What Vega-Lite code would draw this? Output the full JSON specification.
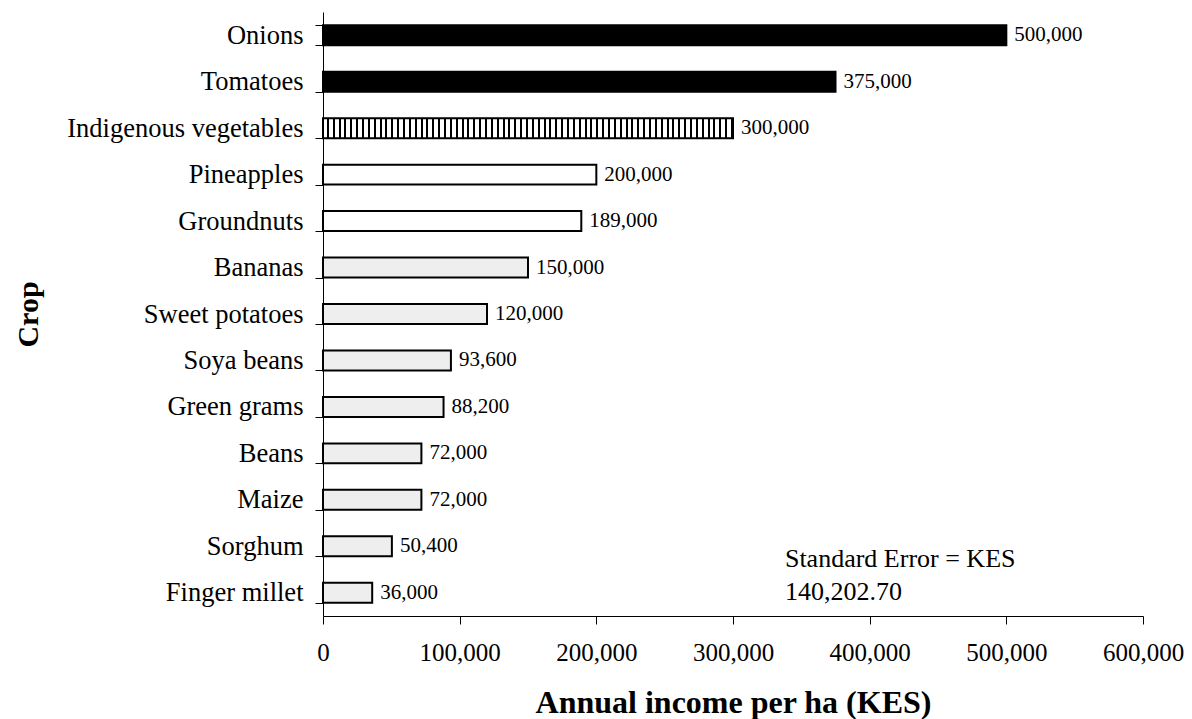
{
  "$schema": "https://vega.github.io/schema/vega-lite/v6.json",
  "width": 820,
  "height": 604,
  "autosize": {"type": "none"},
  "padding": {"left": 323, "top": 12, "right": 49, "bottom": 103},
  "background": "white",
  "config": {
    "view": {"stroke": null},
    "font": "Liberation Serif",
    "axis": {
      "grid": false,
      "domainColor": "#000",
      "domainWidth": 1,
      "tickColor": "#000",
      "tickWidth": 1,
      "labelColor": "#000",
      "titleColor": "#000",
      "labelFont": "Liberation Serif",
      "titleFont": "Liberation Serif"
    }
  },
  "data": {
    "values": [
      {"crop": "Onions", "income": 500000},
      {"crop": "Tomatoes", "income": 375000},
      {"crop": "Indigenous vegetables", "income": 300000},
      {"crop": "Pineapples", "income": 200000},
      {"crop": "Groundnuts", "income": 189000},
      {"crop": "Bananas", "income": 150000},
      {"crop": "Sweet potatoes", "income": 120000},
      {"crop": "Soya beans", "income": 93600},
      {"crop": "Green grams", "income": 88200},
      {"crop": "Beans", "income": 72000},
      {"crop": "Maize", "income": 72000},
      {"crop": "Sorghum", "income": 50400},
      {"crop": "Finger millet", "income": 36000}
    ]
  },
  "layer": [
    {
      "mark": {"type": "bar", "stroke": "#000", "strokeWidth": 2},
      "encoding": {
        "y": {
          "field": "crop",
          "type": "nominal",
          "sort": null,
          "scale": {"paddingInner": 0.57, "paddingOuter": 0.285},
          "axis": {
            "title": "Crop",
            "titleFontSize": 30,
            "titleFontWeight": "bold",
            "titleAngle": -90,
            "titleX": -295,
            "titleY": 302,
            "titleAlign": "center",
            "titleBaseline": "middle",
            "labelFontSize": 26.5,
            "labelPadding": 12,
            "labelLimit": 0,
            "tickSize": 8,
            "tickBand": "extent"
          }
        },
        "x": {
          "field": "income",
          "type": "quantitative",
          "scale": {"domain": [0, 600000], "nice": false},
          "axis": {
            "title": "Annual income per ha (KES)",
            "titleFontSize": 32,
            "titleFontWeight": "bold",
            "titleY": 96,
            "titleBaseline": "alphabetic",
            "values": [0, 100000, 200000, 300000, 400000, 500000, 600000],
            "format": ",.0f",
            "labelFontSize": 25,
            "labelPadding": 16,
            "tickSize": 8,
            "labelFlush": false
          }
        },
        "fill": {
          "condition": [
            {"test": "datum.crop === 'Onions' || datum.crop === 'Tomatoes'", "value": "#000"},
            {"test": "datum.crop === 'Indigenous vegetables'", "value": {
              "gradient": "linear", "x1": 0, "y1": 0, "x2": 1, "y2": 0,
              "stops": [
                {"offset": 0, "color": "#fff"}, {"offset": 0.0094, "color": "#fff"}, {"offset": 0.0094, "color": "#000"}, {"offset": 0.0143, "color": "#000"},
                {"offset": 0.0143, "color": "#fff"}, {"offset": 0.0237, "color": "#fff"}, {"offset": 0.0237, "color": "#000"}, {"offset": 0.0286, "color": "#000"},
                {"offset": 0.0286, "color": "#fff"}, {"offset": 0.038, "color": "#fff"}, {"offset": 0.038, "color": "#000"}, {"offset": 0.0429, "color": "#000"},
                {"offset": 0.0429, "color": "#fff"}, {"offset": 0.0523, "color": "#fff"}, {"offset": 0.0523, "color": "#000"}, {"offset": 0.0571, "color": "#000"},
                {"offset": 0.0571, "color": "#fff"}, {"offset": 0.0665, "color": "#fff"}, {"offset": 0.0665, "color": "#000"}, {"offset": 0.0714, "color": "#000"},
                {"offset": 0.0714, "color": "#fff"}, {"offset": 0.0808, "color": "#fff"}, {"offset": 0.0808, "color": "#000"}, {"offset": 0.0857, "color": "#000"},
                {"offset": 0.0857, "color": "#fff"}, {"offset": 0.0951, "color": "#fff"}, {"offset": 0.0951, "color": "#000"}, {"offset": 0.1, "color": "#000"},
                {"offset": 0.1, "color": "#fff"}, {"offset": 0.1094, "color": "#fff"}, {"offset": 0.1094, "color": "#000"}, {"offset": 0.1143, "color": "#000"},
                {"offset": 0.1143, "color": "#fff"}, {"offset": 0.1237, "color": "#fff"}, {"offset": 0.1237, "color": "#000"}, {"offset": 0.1286, "color": "#000"},
                {"offset": 0.1286, "color": "#fff"}, {"offset": 0.138, "color": "#fff"}, {"offset": 0.138, "color": "#000"}, {"offset": 0.1429, "color": "#000"},
                {"offset": 0.1429, "color": "#fff"}, {"offset": 0.1523, "color": "#fff"}, {"offset": 0.1523, "color": "#000"}, {"offset": 0.1571, "color": "#000"},
                {"offset": 0.1571, "color": "#fff"}, {"offset": 0.1665, "color": "#fff"}, {"offset": 0.1665, "color": "#000"}, {"offset": 0.1714, "color": "#000"},
                {"offset": 0.1714, "color": "#fff"}, {"offset": 0.1808, "color": "#fff"}, {"offset": 0.1808, "color": "#000"}, {"offset": 0.1857, "color": "#000"},
                {"offset": 0.1857, "color": "#fff"}, {"offset": 0.1951, "color": "#fff"}, {"offset": 0.1951, "color": "#000"}, {"offset": 0.2, "color": "#000"},
                {"offset": 0.2, "color": "#fff"}, {"offset": 0.2094, "color": "#fff"}, {"offset": 0.2094, "color": "#000"}, {"offset": 0.2143, "color": "#000"},
                {"offset": 0.2143, "color": "#fff"}, {"offset": 0.2237, "color": "#fff"}, {"offset": 0.2237, "color": "#000"}, {"offset": 0.2286, "color": "#000"},
                {"offset": 0.2286, "color": "#fff"}, {"offset": 0.238, "color": "#fff"}, {"offset": 0.238, "color": "#000"}, {"offset": 0.2429, "color": "#000"},
                {"offset": 0.2429, "color": "#fff"}, {"offset": 0.2523, "color": "#fff"}, {"offset": 0.2523, "color": "#000"}, {"offset": 0.2571, "color": "#000"},
                {"offset": 0.2571, "color": "#fff"}, {"offset": 0.2665, "color": "#fff"}, {"offset": 0.2665, "color": "#000"}, {"offset": 0.2714, "color": "#000"},
                {"offset": 0.2714, "color": "#fff"}, {"offset": 0.2808, "color": "#fff"}, {"offset": 0.2808, "color": "#000"}, {"offset": 0.2857, "color": "#000"},
                {"offset": 0.2857, "color": "#fff"}, {"offset": 0.2951, "color": "#fff"}, {"offset": 0.2951, "color": "#000"}, {"offset": 0.3, "color": "#000"},
                {"offset": 0.3, "color": "#fff"}, {"offset": 0.3094, "color": "#fff"}, {"offset": 0.3094, "color": "#000"}, {"offset": 0.3143, "color": "#000"},
                {"offset": 0.3143, "color": "#fff"}, {"offset": 0.3237, "color": "#fff"}, {"offset": 0.3237, "color": "#000"}, {"offset": 0.3286, "color": "#000"},
                {"offset": 0.3286, "color": "#fff"}, {"offset": 0.338, "color": "#fff"}, {"offset": 0.338, "color": "#000"}, {"offset": 0.3429, "color": "#000"},
                {"offset": 0.3429, "color": "#fff"}, {"offset": 0.3523, "color": "#fff"}, {"offset": 0.3523, "color": "#000"}, {"offset": 0.3571, "color": "#000"},
                {"offset": 0.3571, "color": "#fff"}, {"offset": 0.3665, "color": "#fff"}, {"offset": 0.3665, "color": "#000"}, {"offset": 0.3714, "color": "#000"},
                {"offset": 0.3714, "color": "#fff"}, {"offset": 0.3808, "color": "#fff"}, {"offset": 0.3808, "color": "#000"}, {"offset": 0.3857, "color": "#000"},
                {"offset": 0.3857, "color": "#fff"}, {"offset": 0.3951, "color": "#fff"}, {"offset": 0.3951, "color": "#000"}, {"offset": 0.4, "color": "#000"},
                {"offset": 0.4, "color": "#fff"}, {"offset": 0.4094, "color": "#fff"}, {"offset": 0.4094, "color": "#000"}, {"offset": 0.4143, "color": "#000"},
                {"offset": 0.4143, "color": "#fff"}, {"offset": 0.4237, "color": "#fff"}, {"offset": 0.4237, "color": "#000"}, {"offset": 0.4286, "color": "#000"},
                {"offset": 0.4286, "color": "#fff"}, {"offset": 0.438, "color": "#fff"}, {"offset": 0.438, "color": "#000"}, {"offset": 0.4429, "color": "#000"},
                {"offset": 0.4429, "color": "#fff"}, {"offset": 0.4523, "color": "#fff"}, {"offset": 0.4523, "color": "#000"}, {"offset": 0.4571, "color": "#000"},
                {"offset": 0.4571, "color": "#fff"}, {"offset": 0.4665, "color": "#fff"}, {"offset": 0.4665, "color": "#000"}, {"offset": 0.4714, "color": "#000"},
                {"offset": 0.4714, "color": "#fff"}, {"offset": 0.4808, "color": "#fff"}, {"offset": 0.4808, "color": "#000"}, {"offset": 0.4857, "color": "#000"},
                {"offset": 0.4857, "color": "#fff"}, {"offset": 0.4951, "color": "#fff"}, {"offset": 0.4951, "color": "#000"}, {"offset": 0.5, "color": "#000"},
                {"offset": 0.5, "color": "#fff"}, {"offset": 0.5094, "color": "#fff"}, {"offset": 0.5094, "color": "#000"}, {"offset": 0.5143, "color": "#000"},
                {"offset": 0.5143, "color": "#fff"}, {"offset": 0.5237, "color": "#fff"}, {"offset": 0.5237, "color": "#000"}, {"offset": 0.5286, "color": "#000"},
                {"offset": 0.5286, "color": "#fff"}, {"offset": 0.538, "color": "#fff"}, {"offset": 0.538, "color": "#000"}, {"offset": 0.5429, "color": "#000"},
                {"offset": 0.5429, "color": "#fff"}, {"offset": 0.5523, "color": "#fff"}, {"offset": 0.5523, "color": "#000"}, {"offset": 0.5571, "color": "#000"},
                {"offset": 0.5571, "color": "#fff"}, {"offset": 0.5665, "color": "#fff"}, {"offset": 0.5665, "color": "#000"}, {"offset": 0.5714, "color": "#000"},
                {"offset": 0.5714, "color": "#fff"}, {"offset": 0.5808, "color": "#fff"}, {"offset": 0.5808, "color": "#000"}, {"offset": 0.5857, "color": "#000"},
                {"offset": 0.5857, "color": "#fff"}, {"offset": 0.5951, "color": "#fff"}, {"offset": 0.5951, "color": "#000"}, {"offset": 0.6, "color": "#000"},
                {"offset": 0.6, "color": "#fff"}, {"offset": 0.6094, "color": "#fff"}, {"offset": 0.6094, "color": "#000"}, {"offset": 0.6143, "color": "#000"},
                {"offset": 0.6143, "color": "#fff"}, {"offset": 0.6237, "color": "#fff"}, {"offset": 0.6237, "color": "#000"}, {"offset": 0.6286, "color": "#000"},
                {"offset": 0.6286, "color": "#fff"}, {"offset": 0.638, "color": "#fff"}, {"offset": 0.638, "color": "#000"}, {"offset": 0.6429, "color": "#000"},
                {"offset": 0.6429, "color": "#fff"}, {"offset": 0.6523, "color": "#fff"}, {"offset": 0.6523, "color": "#000"}, {"offset": 0.6571, "color": "#000"},
                {"offset": 0.6571, "color": "#fff"}, {"offset": 0.6665, "color": "#fff"}, {"offset": 0.6665, "color": "#000"}, {"offset": 0.6714, "color": "#000"},
                {"offset": 0.6714, "color": "#fff"}, {"offset": 0.6808, "color": "#fff"}, {"offset": 0.6808, "color": "#000"}, {"offset": 0.6857, "color": "#000"},
                {"offset": 0.6857, "color": "#fff"}, {"offset": 0.6951, "color": "#fff"}, {"offset": 0.6951, "color": "#000"}, {"offset": 0.7, "color": "#000"},
                {"offset": 0.7, "color": "#fff"}, {"offset": 0.7094, "color": "#fff"}, {"offset": 0.7094, "color": "#000"}, {"offset": 0.7143, "color": "#000"},
                {"offset": 0.7143, "color": "#fff"}, {"offset": 0.7237, "color": "#fff"}, {"offset": 0.7237, "color": "#000"}, {"offset": 0.7286, "color": "#000"},
                {"offset": 0.7286, "color": "#fff"}, {"offset": 0.738, "color": "#fff"}, {"offset": 0.738, "color": "#000"}, {"offset": 0.7429, "color": "#000"},
                {"offset": 0.7429, "color": "#fff"}, {"offset": 0.7523, "color": "#fff"}, {"offset": 0.7523, "color": "#000"}, {"offset": 0.7571, "color": "#000"},
                {"offset": 0.7571, "color": "#fff"}, {"offset": 0.7665, "color": "#fff"}, {"offset": 0.7665, "color": "#000"}, {"offset": 0.7714, "color": "#000"},
                {"offset": 0.7714, "color": "#fff"}, {"offset": 0.7808, "color": "#fff"}, {"offset": 0.7808, "color": "#000"}, {"offset": 0.7857, "color": "#000"},
                {"offset": 0.7857, "color": "#fff"}, {"offset": 0.7951, "color": "#fff"}, {"offset": 0.7951, "color": "#000"}, {"offset": 0.8, "color": "#000"},
                {"offset": 0.8, "color": "#fff"}, {"offset": 0.8094, "color": "#fff"}, {"offset": 0.8094, "color": "#000"}, {"offset": 0.8143, "color": "#000"},
                {"offset": 0.8143, "color": "#fff"}, {"offset": 0.8237, "color": "#fff"}, {"offset": 0.8237, "color": "#000"}, {"offset": 0.8286, "color": "#000"},
                {"offset": 0.8286, "color": "#fff"}, {"offset": 0.838, "color": "#fff"}, {"offset": 0.838, "color": "#000"}, {"offset": 0.8429, "color": "#000"},
                {"offset": 0.8429, "color": "#fff"}, {"offset": 0.8523, "color": "#fff"}, {"offset": 0.8523, "color": "#000"}, {"offset": 0.8571, "color": "#000"},
                {"offset": 0.8571, "color": "#fff"}, {"offset": 0.8665, "color": "#fff"}, {"offset": 0.8665, "color": "#000"}, {"offset": 0.8714, "color": "#000"},
                {"offset": 0.8714, "color": "#fff"}, {"offset": 0.8808, "color": "#fff"}, {"offset": 0.8808, "color": "#000"}, {"offset": 0.8857, "color": "#000"},
                {"offset": 0.8857, "color": "#fff"}, {"offset": 0.8951, "color": "#fff"}, {"offset": 0.8951, "color": "#000"}, {"offset": 0.9, "color": "#000"},
                {"offset": 0.9, "color": "#fff"}, {"offset": 0.9094, "color": "#fff"}, {"offset": 0.9094, "color": "#000"}, {"offset": 0.9143, "color": "#000"},
                {"offset": 0.9143, "color": "#fff"}, {"offset": 0.9237, "color": "#fff"}, {"offset": 0.9237, "color": "#000"}, {"offset": 0.9286, "color": "#000"},
                {"offset": 0.9286, "color": "#fff"}, {"offset": 0.938, "color": "#fff"}, {"offset": 0.938, "color": "#000"}, {"offset": 0.9429, "color": "#000"},
                {"offset": 0.9429, "color": "#fff"}, {"offset": 0.9523, "color": "#fff"}, {"offset": 0.9523, "color": "#000"}, {"offset": 0.9571, "color": "#000"},
                {"offset": 0.9571, "color": "#fff"}, {"offset": 0.9665, "color": "#fff"}, {"offset": 0.9665, "color": "#000"}, {"offset": 0.9714, "color": "#000"},
                {"offset": 0.9714, "color": "#fff"}, {"offset": 0.9808, "color": "#fff"}, {"offset": 0.9808, "color": "#000"}, {"offset": 0.9857, "color": "#000"},
                {"offset": 0.9857, "color": "#fff"}, {"offset": 0.9951, "color": "#fff"}, {"offset": 0.9951, "color": "#000"}, {"offset": 1, "color": "#000"}
              ]
            }},
            {"test": "datum.crop === 'Pineapples' || datum.crop === 'Groundnuts'", "value": "#fff"}
          ],
          "value": "#eeeeee"
        }
      }
    },
    {
      "mark": {
        "type": "text",
        "align": "left",
        "baseline": "middle",
        "dx": 8,
        "font": "Liberation Serif",
        "fontSize": 21,
        "color": "#000"
      },
      "encoding": {
        "y": {"field": "crop", "type": "nominal", "sort": null},
        "x": {"field": "income", "type": "quantitative"},
        "text": {"field": "income", "type": "quantitative", "format": ",.0f"}
      }
    },
    {
      "data": {"values": [{"note": "Standard Error = KES\n140,202.70"}]},
      "mark": {
        "type": "text",
        "align": "left",
        "baseline": "top",
        "lineBreak": "\n",
        "lineHeight": 33,
        "font": "Liberation Serif",
        "fontSize": 26,
        "color": "#000"
      },
      "encoding": {
        "x": {"datum": 338000},
        "y": {"datum": "Sorghum"},
        "text": {"field": "note"}
      }
    }
  ]
}
